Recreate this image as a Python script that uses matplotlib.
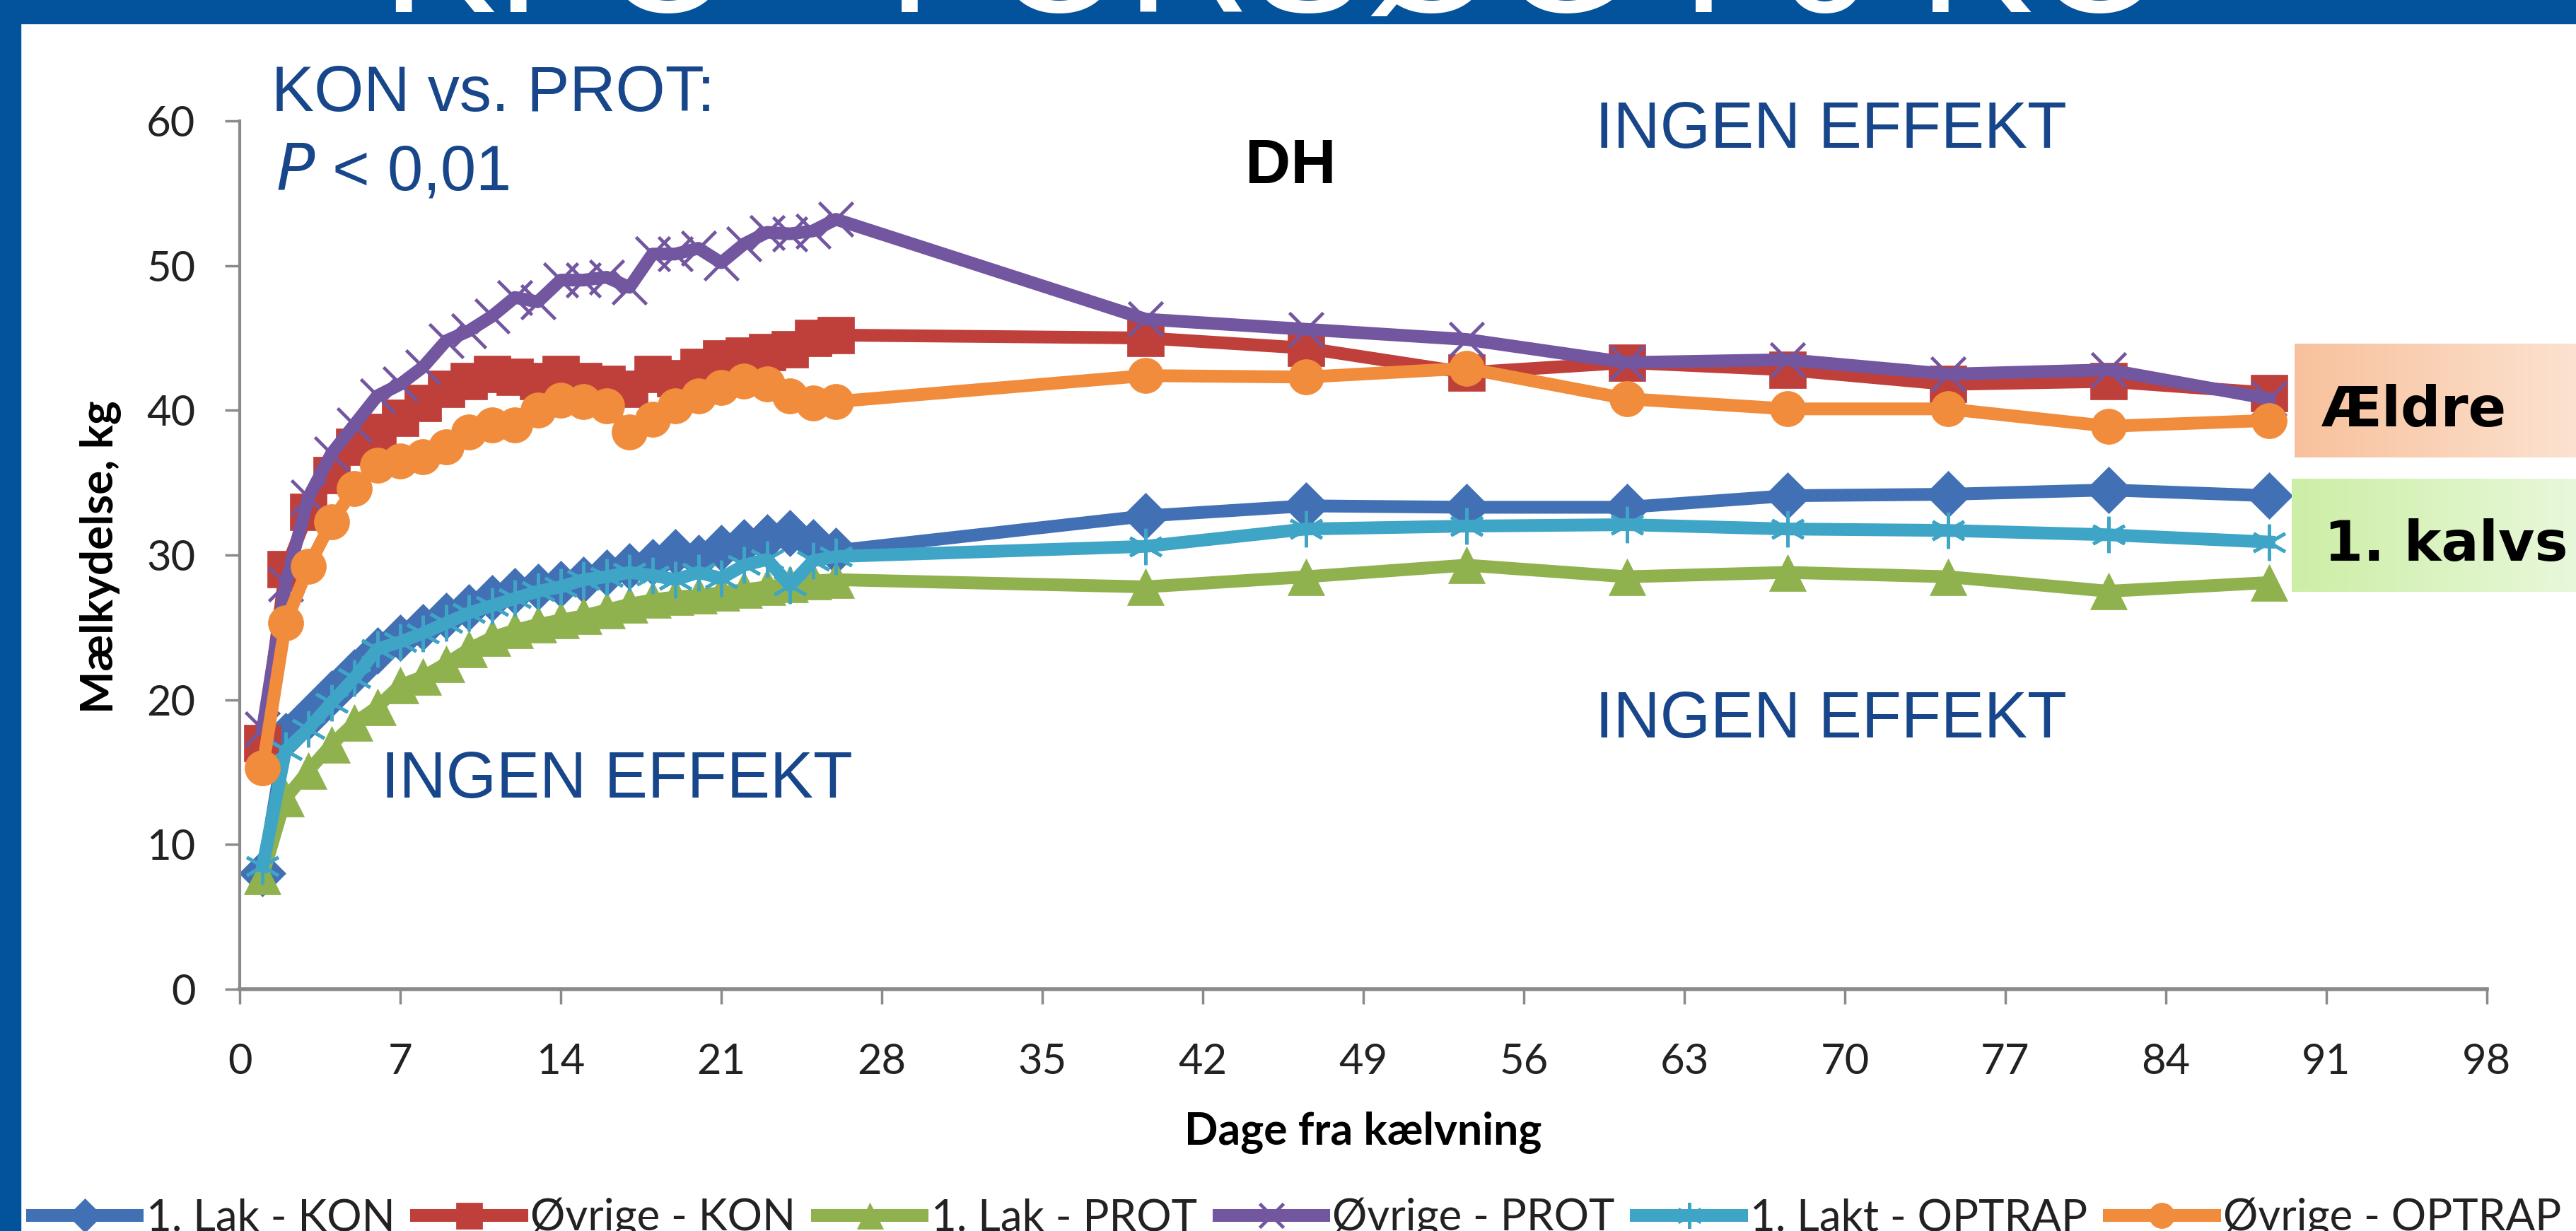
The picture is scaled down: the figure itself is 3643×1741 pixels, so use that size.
import numpy as np
import matplotlib
matplotlib.use("Agg")
import matplotlib.pyplot as plt
from matplotlib.patches import Rectangle

# dage fra kaelvning (daglig de foerste 26 dage, derefter ugentlig)
dage = [1, 2, 3, 4, 5, 6, 7, 8, 9, 10, 11, 12, 13, 14, 15, 16, 17, 18, 19, 20,
        21, 22, 23, 24, 25, 26, 39.5, 46.5, 53.5, 60.5, 67.5, 74.5, 81.5, 88.5]

lak_kon = [8.0, 17.5, 18.8, 20.4, 21.9, 23.4, 24.3, 25.0, 25.8, 26.4, 27.0, 27.5, 27.8,
           28.0, 28.3, 28.8, 29.2, 29.5, 30.2, 29.8, 30.5, 30.9, 31.2, 31.5, 30.9, 30.3,
           32.7, 33.4, 33.3, 33.3, 34.1, 34.2, 34.5, 34.1]
ovr_kon = [17.0, 29.0, 33.0, 35.5, 37.5, 38.5, 39.5, 40.5, 41.5, 42.0, 42.5, 42.3, 42.0,
           42.5, 42.0, 41.8, 41.5, 42.5, 42.2, 43.0, 43.6, 43.8, 44.0, 44.2, 45.0, 45.2,
           45.0, 44.3, 42.6, 43.3, 42.8, 41.8, 42.0, 41.2]
lak_prot = [7.8, 13.2, 15.1, 16.9, 18.4, 19.5, 21.0, 21.6, 22.5, 23.5, 24.3, 24.8, 25.2,
            25.5, 25.8, 26.2, 26.6, 26.9, 27.1, 27.2, 27.4, 27.6, 27.8, 28.0, 28.2, 28.3,
            27.8, 28.5, 29.3, 28.5, 28.8, 28.5, 27.5, 28.1]
ovr_prot = [18.0, 28.0, 34.0, 37.0, 39.0, 41.0, 41.8, 43.0, 44.8, 45.5, 46.5, 47.8, 47.5,
            49.0, 49.0, 49.2, 48.5, 50.8, 50.8, 51.2, 50.2, 51.5, 52.3, 52.2, 52.4, 53.2,
            46.3, 45.6, 44.9, 43.3, 43.5, 42.5, 42.8, 40.8]
lak_optrap = [8.5, 16.5, 18.0, 19.8, 21.5, 23.5, 24.0, 24.6, 25.3, 26.0, 26.5, 27.0, 27.5,
              27.8, 28.3, 28.5, 28.8, 28.6, 28.3, 28.8, 28.4, 29.3, 29.7, 27.9, 29.6, 29.9,
              30.6, 31.8, 32.0, 32.1, 31.8, 31.7, 31.4, 30.9]
ovr_optrap = [15.3, 25.3, 29.2, 32.3, 34.6, 36.2, 36.5, 36.8, 37.5, 38.5, 39.0, 39.0, 40.0,
              40.7, 40.6, 40.3, 38.5, 39.4, 40.3, 41.0, 41.6, 42.0, 41.8, 41.0, 40.5, 40.6,
              42.4, 42.3, 42.9, 40.8, 40.1, 40.1, 38.9, 39.3]

serier = [
    ("1. Lak - KON", lak_kon, "#4270B4", "D", 34),
    ("Øvrige - KON", ovr_kon, "#BF3F3A", "s", 37),
    ("1. Lak - PROT", lak_prot, "#8FB14E", "^", 37),
    ("Øvrige - PROT", ovr_prot, "#7356A0", "x", 34),
    ("1. Lakt - OPTRAP", lak_optrap, "#3FA5C6", (6, 2, 0), 37),
    ("Øvrige - OPTRAP", ovr_optrap, "#F08C3C", "o", 36),
]

x_ticks = [0, 7, 14, 21, 28, 35, 42, 49, 56, 63, 70, 77, 84, 91, 98]
y_ticks = [0, 10, 20, 30, 40, 50, 60]

W, H = 3643, 1741
fig = plt.figure(figsize=(W / 100, H / 100), dpi=100)
fig.patch.set_facecolor("white")

blaa = "#03529C"
tekst_blaa = "#17468A"
sans = ["Lato", "DejaVu Sans"]
arial = ["Liberation Sans", "DejaVu Sans"]

# blaa ramme (top og venstre)
fig.patches.append(Rectangle((0, 1 - 33 / H), 1, 33 / H, transform=fig.transFigure,
                             color=blaa, zorder=0))
fig.patches.append(Rectangle((0, 0), 29 / W, 1, transform=fig.transFigure,
                             color=blaa, zorder=0))
fig.text(0.4947, 1 - 17 / H, "KFO - FORSØG I 6 KO", color="white", fontsize=175,
         family=arial, ha="center", va="baseline")

ax = fig.add_axes([339 / W, 1 - 1399 / H, (3517 - 339) / W, (1399 - 171) / H])
for navn, vals, farve, mk, ms in serier:
    lin = mk in ("x", (6, 2, 0))
    ax.plot(dage, vals, color=farve, lw=13, marker=mk, markersize=ms,
            markerfacecolor=farve, markeredgecolor=farve,
            markeredgewidth=3.4 if lin else 0.5, label=navn, solid_joinstyle="round",
            clip_on=False)

ax.set_xlim(0, 98)
ax.set_ylim(0, 60)
ax.set_xticks(x_ticks)
ax.set_yticks(y_ticks)
for s in ("top", "right"):
    ax.spines[s].set_visible(False)
for s in ("left", "bottom"):
    ax.spines[s].set_color("#8A8A8A")
ax.spines["left"].set_linewidth(3)
ax.spines["bottom"].set_linewidth(4)
ax.tick_params(direction="out", length=15, width=2.5, color="#8A8A8A",
               labelsize=43, labelcolor="#222222")
ax.tick_params(axis="y", pad=30)
ax.tick_params(axis="x", pad=40)
for lab in ax.get_xticklabels() + ax.get_yticklabels():
    lab.set_family(sans)

ax.set_ylabel("Mælkydelse, kg", fontsize=46, fontweight="bold", family=sans)
ax.yaxis.label.set_va("center")
ax.yaxis.set_label_coords(-0.0623, 0.498)
ax.set_xlabel("Dage fra kælvning", fontsize=45, fontweight="bold", family=sans,
              labelpad=30)

# tekster i figuren
ax.text(0.0142, 1.011, "KON vs. PROT:", transform=ax.transAxes, fontsize=65,
        color=tekst_blaa, family=arial, va="baseline")
ax.text(0.016, 0.921, "$\\mathit{P}$ < 0,01", transform=ax.transAxes, fontsize=65,
        color=tekst_blaa, family=arial, va="baseline")
ax.text(0.4676, 0.928, "DH", transform=ax.transAxes, fontsize=64, fontweight="bold",
        color="black", family=arial, ha="center", va="baseline")
ax.text(0.6032, 0.969, "INGEN EFFEKT", transform=ax.transAxes, fontsize=66,
        color=tekst_blaa, family=arial, va="baseline")
ax.text(0.6032, 0.290, "INGEN EFFEKT", transform=ax.transAxes, fontsize=66,
        color=tekst_blaa, family=arial, va="baseline")
ax.text(0.0629, 0.2207, "INGEN EFFEKT", transform=ax.transAxes, fontsize=66,
        color=tekst_blaa, family=arial, va="baseline")


def gradient_boks(rect, c1, c2, tekst, tx, ty):
    bax = fig.add_axes(rect)
    a = np.array(matplotlib.colors.to_rgb(c1))
    b = np.array(matplotlib.colors.to_rgb(c2))
    t = np.linspace(0, 1, 200)[None, :, None]
    img = a + (b - a) * t
    bax.imshow(img, aspect="auto", extent=(0, 1, 0, 1))
    bax.set_axis_off()
    fig.text(tx, ty, tekst, fontsize=57, fontweight="bold", family=["DejaVu Sans"],
             color="black", va="baseline")


gradient_boks([3245 / W, 1 - 647 / H, (W - 3245) / W, 161 / H], "#F8C19C", "#FCE2D0",
              "Ældre", 3283 / W, 1 - 603 / H)
gradient_boks([3241 / W, 1 - 837 / H, (W - 3241) / W, 160 / H], "#CDEEA6", "#E8F8DA",
              "1. kalvs", 3287 / W, 1 - 793 / H)

leg = fig.legend(loc="center", bbox_to_anchor=(1834 / W, 1 - 1723 / H), ncol=6,
                 frameon=False, prop={"family": sans, "size": 44.5},
                 handlelength=2.4, handletextpad=0.2, columnspacing=0.5,
                 borderpad=0, markerscale=0.72)
for t in leg.get_texts():
    t.set_color("#222222")

fig.savefig("out.png", dpi=100, facecolor="white")
